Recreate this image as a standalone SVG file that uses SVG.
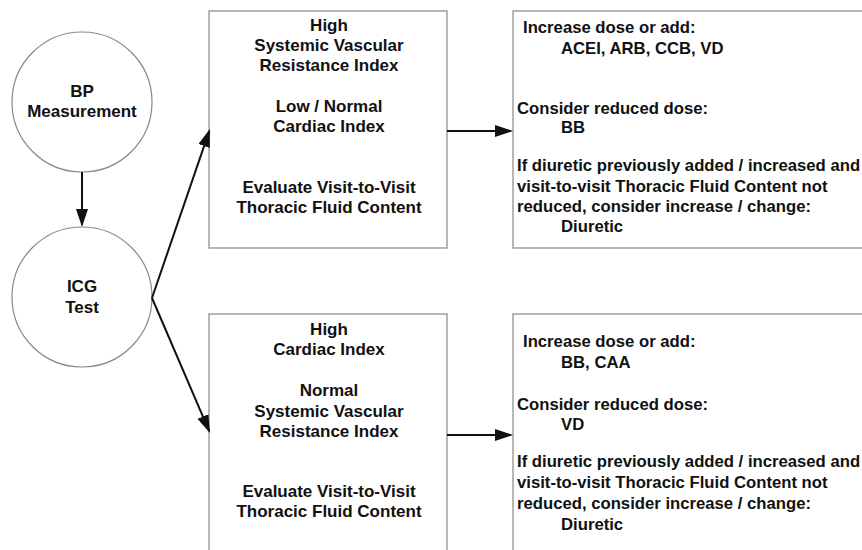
<svg xmlns="http://www.w3.org/2000/svg" width="862" height="550" viewBox="0 0 862 550">
<style>
text{font-family:"Liberation Sans",Arial,sans-serif;font-weight:bold;font-size:17px;fill:#111}
.c{text-anchor:middle}
.r{font-size:16.7px}
.shape{fill:#fff;stroke:#888;stroke-width:1.2}
.conn{stroke:#111;stroke-width:2;fill:none}
</style>
<defs>
<marker id="ah" markerUnits="userSpaceOnUse" markerWidth="20" markerHeight="14" refX="16" refY="6" orient="auto">
<path d="M0,0 L18,6 L0,12 z" fill="#111"/>
</marker>
</defs>
<rect width="862" height="550" fill="#fff"/>
<g id="bp">
<circle class="shape" cx="82" cy="102" r="70"/>
<text class="c" x="82" y="97">BP</text>
<text class="c" x="82" y="117">Measurement</text>
</g>
<g id="icg">
<circle class="shape" cx="82" cy="297" r="70"/>
<text class="c" x="82" y="292">ICG</text>
<text class="c" x="82" y="313">Test</text>
</g>
<g id="top-profile">
<rect class="shape" x="209" y="11" width="238" height="237"/>
<text class="c" x="329" y="31">High</text>
<text class="c" x="329" y="51">Systemic Vascular</text>
<text class="c" x="329" y="71">Resistance Index</text>
<text class="c" x="329" y="112">Low / Normal</text>
<text class="c" x="329" y="132">Cardiac Index</text>
<text class="c" x="329" y="193">Evaluate Visit-to-Visit</text>
<text class="c" x="329" y="213">Thoracic Fluid Content</text>
</g>
<g id="top-therapy">
<rect class="shape" x="513" y="11" width="400" height="237"/>
<text class="r" x="523" y="33">Increase dose or add:</text>
<text class="r" x="561" y="54">ACEI, ARB, CCB, VD</text>
<text class="r" x="517" y="114">Consider reduced dose:</text>
<text class="r" x="561" y="133">BB</text>
<text class="r" x="517" y="171">If diuretic previously added / increased and</text>
<text class="r" x="517" y="192">visit-to-visit Thoracic Fluid Content not</text>
<text class="r" x="517" y="212">reduced, consider increase / change:</text>
<text class="r" x="561" y="232">Diuretic</text>
</g>
<g id="bottom-profile">
<rect class="shape" x="209" y="314" width="238" height="300"/>
<text class="c" x="329" y="335">High</text>
<text class="c" x="329" y="355">Cardiac Index</text>
<text class="c" x="329" y="396">Normal</text>
<text class="c" x="329" y="417">Systemic Vascular</text>
<text class="c" x="329" y="437">Resistance Index</text>
<text class="c" x="329" y="497">Evaluate Visit-to-Visit</text>
<text class="c" x="329" y="517">Thoracic Fluid Content</text>
</g>
<g id="bottom-therapy">
<rect class="shape" x="513" y="314" width="400" height="300"/>
<text class="r" x="523" y="347">Increase dose or add:</text>
<text class="r" x="561" y="368">BB, CAA</text>
<text class="r" x="517" y="410">Consider reduced dose:</text>
<text class="r" x="561" y="430">VD</text>
<text class="r" x="517" y="467">If diuretic previously added / increased and</text>
<text class="r" x="517" y="488">visit-to-visit Thoracic Fluid Content not</text>
<text class="r" x="517" y="509">reduced, consider increase / change:</text>
<text class="r" x="561" y="530">Diuretic</text>
</g>
<g id="connectors">
<line class="conn" x1="82" y1="172" x2="82" y2="225" marker-end="url(#ah)"/>
<line class="conn" x1="152" y1="298" x2="209.3" y2="130.9" marker-end="url(#ah)"/>
<line class="conn" x1="152" y1="298" x2="209.2" y2="431.2" marker-end="url(#ah)"/>
<line class="conn" x1="447" y1="131" x2="511" y2="131" marker-end="url(#ah)"/>
<line class="conn" x1="447" y1="435" x2="511" y2="435" marker-end="url(#ah)"/>
</g>
</svg>
